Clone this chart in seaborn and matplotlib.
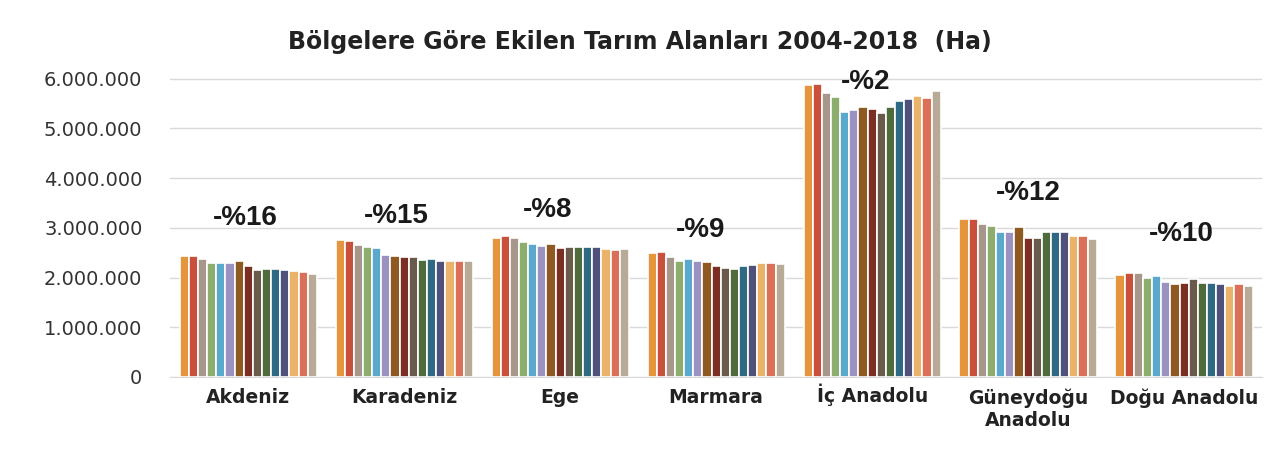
import numpy as np
import pandas as pd
import matplotlib.pyplot as plt
import matplotlib.ticker as mtick
import matplotlib.transforms as mtrans
import seaborn as sns

bolgeler = ['Akdeniz', 'Karadeniz', 'Ege', 'Marmara', 'İç Anadolu', 'Güneydoğu\nAnadolu', 'Doğu Anadolu']
yillar = [str(y) for y in range(2004, 2019)]

# ekilen alan (milyon ha)
akdeniz = [2.44, 2.44, 2.37, 2.29, 2.29, 2.29, 2.33, 2.23, 2.15, 2.18, 2.18, 2.16, 2.13, 2.11, 2.07]
karadeniz = [2.76, 2.74, 2.66, 2.61, 2.59, 2.46, 2.44, 2.42, 2.42, 2.36, 2.38, 2.34, 2.34, 2.34, 2.33]
ege = [2.79, 2.83, 2.79, 2.72, 2.68, 2.64, 2.67, 2.59, 2.62, 2.62, 2.61, 2.61, 2.57, 2.55, 2.57]
marmara = [2.50, 2.52, 2.42, 2.33, 2.37, 2.33, 2.31, 2.23, 2.20, 2.18, 2.23, 2.25, 2.29, 2.29, 2.27]
ic_anadolu = [5.87, 5.89, 5.72, 5.63, 5.33, 5.37, 5.44, 5.39, 5.31, 5.44, 5.55, 5.59, 5.65, 5.61, 5.76]
guneydogu = [3.17, 3.17, 3.08, 3.04, 2.92, 2.92, 3.02, 2.80, 2.80, 2.92, 2.92, 2.91, 2.83, 2.83, 2.78]
dogu = [2.05, 2.09, 2.09, 1.99, 2.03, 1.92, 1.88, 1.90, 1.98, 1.90, 1.90, 1.88, 1.84, 1.88, 1.84]

degisim = ['-%16', '-%15', '-%8', '-%9', '-%2', '-%12', '-%10']
etiket_y = [3.20, 3.24, 3.36, 2.96, 5.94, 3.70, 2.88]
etiket_dx = [-0.02, -0.05, -0.08, -0.1, -0.04, 0.0, -0.02]

renkler = ['#E5953D', '#C9503A', '#A6978A', '#8DAD6C', '#5AA8CC', '#9A93C2', '#8E5A22',
           '#7B2E23', '#6A5A4B', '#4F6B3B', '#2E6A84', '#50517A', '#EBB36A', '#DA7058', '#B7AB97']

veri = [akdeniz, karadeniz, ege, marmara, ic_anadolu, guneydogu, dogu]
rows = []
for b, vals in zip(bolgeler, veri):
    for y, v in zip(yillar, vals):
        rows.append({'bolge': b, 'yil': y, 'alan': v * 1e6})
df = pd.DataFrame(rows)

sns.set_style("white")
fig = plt.figure(figsize=(12.8, 4.62), dpi=100)
ax = fig.add_axes([0.133, 0.184, 0.853, 0.651])

sns.barplot(data=df, x='bolge', y='alan', hue='yil', palette=renkler, width=0.88,
            saturation=1, edgecolor='white', linewidth=1.2, legend=False, ax=ax)

ax.set_ylim(0, 6.05e6)
ax.set_yticks(np.arange(0, 6.5e6, 1e6))
ax.yaxis.set_major_formatter(mtick.FuncFormatter(lambda v, p: '{:,.0f}'.format(v).replace(',', '.')))
ax.grid(axis='y', color='#D9D9D9', linewidth=1)
ax.set_axisbelow(True)
for s in ['top', 'right', 'left']:
    ax.spines[s].set_visible(False)
ax.spines['bottom'].set_color('#D9D9D9')
ax.tick_params(axis='y', length=0, pad=20, labelsize=14, labelcolor='#333333')
ax.tick_params(axis='x', length=0, pad=8)
for lbl in ax.get_xticklabels():
    lbl.set_fontsize(13.5)
    lbl.set_fontweight('bold')
    lbl.set_color('#222222')
    if lbl.get_text().startswith('İ'):
        # noktali I etiketi asagi kaymasin
        lbl.set_transform(lbl.get_transform() + mtrans.ScaledTranslation(0, 3 / 72, fig.dpi_scale_trans))
ax.set_xlabel('')
ax.set_ylabel('')

for i, (t, yv, dx) in enumerate(zip(degisim, etiket_y, etiket_dx)):
    ax.text(i + dx, yv * 1e6, t, ha='center', va='center', fontsize=20,
            fontweight='bold', family='Liberation Sans', color='#1a1a1a', clip_on=False)

fig.suptitle('Bölgelere Göre Ekilen Tarım Alanları 2004-2018  (Ha)', y=0.935,
             fontsize=17, fontweight='bold', color='#222222')

plt.savefig('out.png', dpi=100)
